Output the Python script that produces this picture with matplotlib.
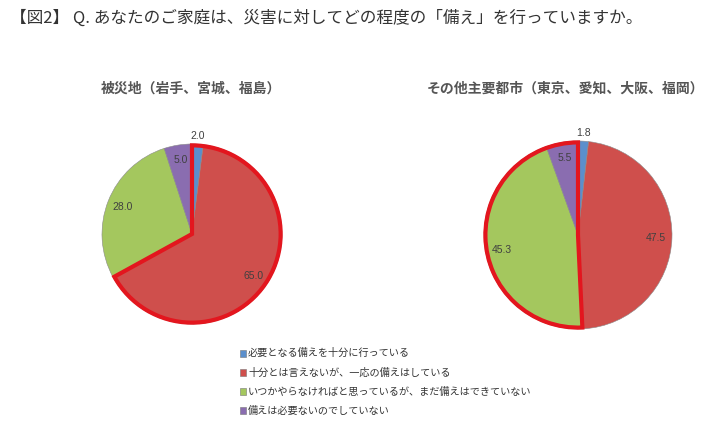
import matplotlib
matplotlib.use("Agg")
import matplotlib.pyplot as plt
from matplotlib.patches import Wedge, Rectangle
import numpy as np

plt.rcParams['font.family'] = ['Noto Sans CJK JP', 'DejaVu Sans']

title = "【図2】 Q. あなたのご家庭は、災害に対してどの程度の「備え」を行っていますか。"
categories = ["必要となる備えを十分に行っている",
              "十分とは言えないが、一応の備えはしている",
              "いつかやらなければと思っているが、まだ備えはできていない",
              "備えは必要ないのでしていない"]
left_title = "被災地（岩手、宮城、福島）"
right_title = "その他主要都市（東京、愛知、大阪、福岡）"
left_values = [2.0, 65.0, 28.0, 5.0]
right_values = [1.8, 47.5, 45.3, 5.5]
left_highlight = [0, 1]    # slices enclosed by red outline
right_highlight = [2, 3]

colors = ["#5B8FCC", "#CF4F4C", "#A4C75E", "#8A6DB0"]

W, H = 720, 433
fig = plt.figure(figsize=(W / 100, H / 100), dpi=100)
fig.patch.set_facecolor("white")

def px_axes(cx, cy, r):
    return fig.add_axes([(cx - r) / W, (H - cy - r) / H, 2 * r / W, 2 * r / H])

def draw_pie(ax, values, highlight):
    wedges, _ = ax.pie(values, colors=colors, startangle=90, counterclock=False,
                       radius=1.0, wedgeprops=dict(edgecolor="#8a8a8a", linewidth=0.4))
    total = sum(values)
    for i, (w, v) in enumerate(zip(wedges, values)):
        ang = np.deg2rad((w.theta1 + w.theta2) / 2)
        d = 1.09 if v / total < 0.03 else 0.83
        ax.text(d * np.cos(ang), d * np.sin(ang), f"{v:.1f}", ha="center", va="center",
                fontsize=7.5, color="#404040", family=["Liberation Sans"])
    t1 = min(wedges[i].theta1 for i in highlight)
    t2 = max(wedges[i].theta2 for i in highlight)
    ax.add_patch(Wedge((0, 0), 0.985, t1, t2, fill=False, edgecolor="#E3161E",
                       linewidth=3.0, joinstyle="miter", clip_on=False, zorder=5))
    ax.set_xlim(-1, 1)
    ax.set_ylim(-1, 1)
    ax.set_aspect("equal")
    ax.axis("off")
    return wedges

axL = px_axes(192, 234, 90)
draw_pie(axL, left_values, left_highlight)
axR = px_axes(578, 235, 94)
draw_pie(axR, right_values, right_highlight)

fig.text(10 / W, 1 - 18 / H, title, ha="left", va="center", fontsize=12, color="#333333")
fig.text(191 / W, 1 - 89 / H, left_title, ha="center", va="center", fontsize=10,
         fontweight="bold", color="#555555")
fig.text(566 / W, 1 - 89 / H, right_title, ha="center", va="center", fontsize=10,
         fontweight="bold", color="#555555")

for i, (lab, c) in enumerate(zip(categories, colors)):
    y = 353 + i * 19.3
    fig.patches.append(Rectangle((240 / W, 1 - (y + 3.5) / H), 6 / W, 7 / H, facecolor=c,
                                 edgecolor="#777777", linewidth=0.4,
                                 transform=fig.transFigure, figure=fig))
    fig.text(248 / W, 1 - y / H, lab, ha="left", va="center", fontsize=7.3, color="#333333")

fig.savefig("out.png", dpi=100)
